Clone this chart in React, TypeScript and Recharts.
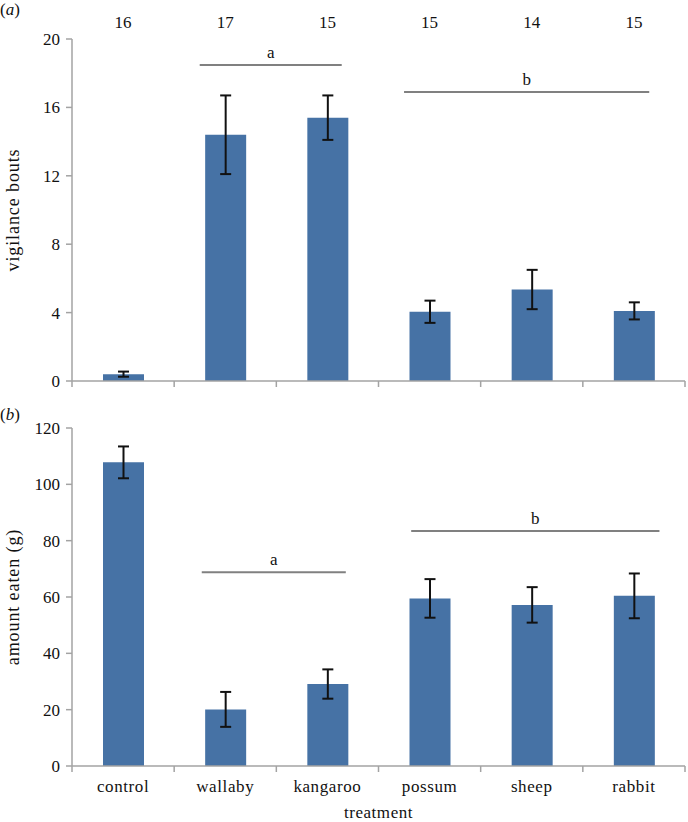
import React from "react";
import { BarChart, Bar, XAxis, YAxis, ErrorBar, ReferenceLine } from "recharts";

const treatments = ["control", "wallaby", "kangaroo", "possum", "sheep", "rabbit"];
const sampleSizes = [16, 17, 15, 15, 14, 15];
const vigilanceMean = [0.4, 14.4, 15.4, 4.05, 5.35, 4.1];
const vigilanceErr = [0.15, 2.3, 1.3, 0.65, 1.15, 0.5];
const eatenMean = [107.8, 20.1, 29.1, 59.5, 57.2, 60.4];
const eatenErr = [5.65, 6.2, 5.2, 6.85, 6.3, 7.95];
const vigTicks = [0, 4, 8, 12, 16, 20];
const eatenTicks = [0, 20, 40, 60, 80, 100, 120];

const FONT = "'Liberation Serif', 'Times New Roman', serif";
const BLUE = "#4672a5";
const AXIS = "#a3a3a3";
const GROUP = "#808080";
const INK = "#111";

const data = treatments.map((name, i) => ({
  name,
  pos: i + 0.5,
  vig: vigilanceMean[i],
  vigErr: vigilanceErr[i],
  eaten: eatenMean[i],
  eatenErr: eatenErr[i],
}));

// tick positions: category edges (integers) and centres (halves)
const edgeAndCentre = treatments.flatMap((_, i) => [i, i + 0.5]).concat(treatments.length);
const centres = treatments.map((_, i) => i + 0.5);

const tickText = { fontSize: 17, fill: INK, fontFamily: FONT };

function CategoryTick(props: any) {
  const { x, y, payload, showLabels } = props;
  const v = payload.value;
  if (Number.isInteger(v)) {
    return <line x1={x} x2={x} y1={y} y2={y + 6} stroke={AXIS} strokeWidth={1.5} />;
  }
  if (!showLabels) return <g />;
  return (
    <text
      x={x}
      y={y + 25.5}
      textAnchor="middle"
      fontSize={17}
      fontFamily={FONT}
      fill={INK}
      style={{ letterSpacing: 0.6 }}
    >
      {treatments[Math.floor(v)]}
    </text>
  );
}

const groupLabel = (value: string) => ({
  value,
  position: "top" as const,
  offset: 7,
  fontSize: 17,
  fontFamily: FONT,
  fill: INK,
});

const yTitle = (value: string) => ({
  value,
  angle: -90,
  position: "insideLeft" as const,
  offset: 13,
  fontSize: 18,
  fontFamily: FONT,
  fill: INK,
  style: { textAnchor: "middle", letterSpacing: 0.9 },
});

function PanelTag({ text, top }: { text: string; top: number }) {
  return (
    <div
      style={{
        position: "absolute",
        left: 0,
        top,
        fontFamily: FONT,
        fontSize: 17,
        lineHeight: "17px",
        color: INK,
      }}
    >
      (<i>{text}</i>)
    </div>
  );
}

export default function App() {
  return (
    <div
      style={{
        position: "absolute",
        left: 0,
        top: 0,
        width: 688,
        height: 822,
        background: "#fff",
        fontFamily: FONT,
      }}
    >
      <div style={{ position: "absolute", left: 0, top: 0 }}>
        <BarChart width={688} height={400} data={data} margin={{ top: 0, right: 3, bottom: 0, left: 0 }}>
          <XAxis
            dataKey="pos"
            type="number"
            domain={[0, 6]}
            ticks={edgeAndCentre}
            interval={0}
            height={19}
            tickSize={0}
            tickMargin={0}
            tickLine={false}
            axisLine={{ stroke: AXIS, strokeWidth: 1.5 }}
            tick={(p: any) => <CategoryTick {...p} showLabels={false} />}
          />
          <XAxis
            xAxisId="n"
            orientation="top"
            dataKey="pos"
            type="number"
            domain={[0, 6]}
            ticks={centres}
            interval={0}
            height={39}
            tickMargin={5}
            axisLine={false}
            tickLine={false}
            tick={tickText}
            tickFormatter={(v: number) => String(sampleSizes[Math.floor(v)])}
          />
          <YAxis
            domain={[0, 20]}
            ticks={vigTicks}
            interval={0}
            width={72}
            tickSize={6}
            tickMargin={6}
            tick={tickText}
            axisLine={{ stroke: AXIS, strokeWidth: 1.5 }}
            tickLine={{ stroke: AXIS, strokeWidth: 1.5 }}
            label={yTitle("vigilance bouts")}
          />
          <ReferenceLine
            segment={[{ x: 1.25, y: 18.48 }, { x: 2.64, y: 18.48 }]}
            stroke={GROUP}
            strokeWidth={2}
            label={groupLabel("a")}
          />
          <ReferenceLine
            segment={[{ x: 3.25, y: 16.9 }, { x: 5.65, y: 16.9 }]}
            stroke={GROUP}
            strokeWidth={2}
            label={groupLabel("b")}
          />
          <Bar dataKey="vig" fill={BLUE} barSize={41} isAnimationActive={false}>
            <ErrorBar dataKey="vigErr" width={5.5} stroke={INK} strokeWidth={2} />
          </Bar>
        </BarChart>
      </div>

      <div style={{ position: "absolute", left: 0, top: 400 }}>
        <BarChart width={688} height={422} data={data} margin={{ top: 28, right: 3, bottom: 0, left: 0 }}>
          <XAxis
            dataKey="pos"
            type="number"
            domain={[0, 6]}
            ticks={edgeAndCentre}
            interval={0}
            height={56}
            tickSize={0}
            tickMargin={0}
            tickLine={false}
            axisLine={{ stroke: AXIS, strokeWidth: 1.5 }}
            tick={(p: any) => <CategoryTick {...p} showLabels />}
            label={{
              value: "treatment",
              position: "insideBottom",
              offset: 4,
              fontSize: 17,
              fontFamily: FONT,
              fill: INK,
              style: { letterSpacing: 0.55 },
            }}
          />
          <YAxis
            domain={[0, 120]}
            ticks={eatenTicks}
            interval={0}
            width={72}
            tickSize={6}
            tickMargin={6}
            tick={tickText}
            axisLine={{ stroke: AXIS, strokeWidth: 1.5 }}
            tickLine={{ stroke: AXIS, strokeWidth: 1.5 }}
            label={yTitle("amount eaten (g)")}
          />
          <ReferenceLine
            segment={[{ x: 1.27, y: 68.8 }, { x: 2.68, y: 68.8 }]}
            stroke={GROUP}
            strokeWidth={2}
            label={groupLabel("a")}
          />
          <ReferenceLine
            segment={[{ x: 3.32, y: 83.4 }, { x: 5.75, y: 83.4 }]}
            stroke={GROUP}
            strokeWidth={2}
            label={groupLabel("b")}
          />
          <Bar dataKey="eaten" fill={BLUE} barSize={41} isAnimationActive={false}>
            <ErrorBar dataKey="eatenErr" width={5.5} stroke={INK} strokeWidth={2} />
          </Bar>
        </BarChart>
      </div>

      <PanelTag text="a" top={1} />
      <PanelTag text="b" top={406} />
    </div>
  );
}
